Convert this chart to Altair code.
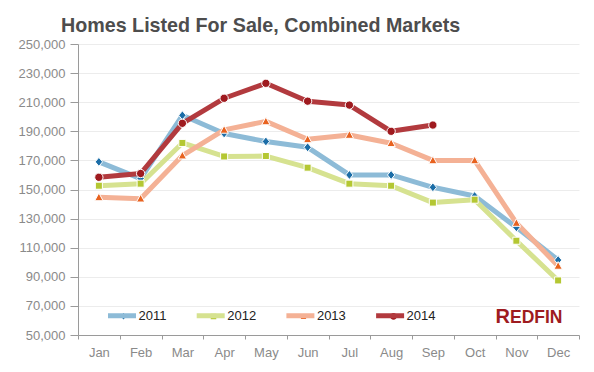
import altair as alt
import pandas as pd

months = ["Jan", "Feb", "Mar", "Apr", "May", "Jun", "Jul", "Aug", "Sep", "Oct", "Nov", "Dec"]
years = ["2011", "2012", "2013", "2014"]

homes_2011 = [169000, 157500, 201000, 188500, 183000, 179000, 160000, 160000, 151500, 145500, 124000, 101500]
homes_2012 = [152600, 154000, 182000, 172700, 173000, 165000, 154000, 152600, 141000, 143000, 114800, 87500]
homes_2013 = [144600, 143700, 173300, 191000, 196800, 184500, 187500, 181800, 170000, 170000, 127000, 97500]
homes_2014 = [158400, 161000, 195500, 212700, 223000, 210700, 208000, 190000, 194300]

y_ticks = [50000, 70000, 90000, 110000, 130000, 150000, 170000, 190000, 210000, 230000, 250000]

line_colors = ["#8dbbd7", "#d6e290", "#f4b195", "#b23a3e"]
marker_colors = ["#1b6da7", "#b4c732", "#e8621f", "#9f1a1f"]
marker_paths = [
    "M0,-0.28L0.23,0L0,0.28L-0.23,0Z",
    "M-0.22,-0.22H0.22V0.22H-0.22Z",
    "M0,-0.27L0.26,0.21H-0.26Z",
    "M0.26,0A0.26,0.26,0,1,1,-0.26,0A0.26,0.26,0,1,1,0.26,0Z",
]

rows = []
for yr, vals in zip(years, [homes_2011, homes_2012, homes_2013, homes_2014]):
    for m, v in zip(months, vals):
        rows.append({"month": m, "year": yr, "homes": v})
df = pd.DataFrame(rows)

FONT = "Liberation Sans"

x_enc = alt.X(
    "month:N",
    sort=months,
    scale=alt.Scale(type="band", domain=months, paddingInner=0, paddingOuter=0),
    axis=alt.Axis(
        title=None, labelAngle=0, tickBand="extent", tickSize=4, labelPadding=7,
        labelColor="#8a8a8a", labelFontSize=13, labelFont=FONT,
        domainColor="#9a9a9a", tickColor="#9a9a9a", grid=False,
    ),
)
y_enc = alt.Y(
    "homes:Q",
    scale=alt.Scale(domain=[50000, 250000], nice=False, zero=False),
    axis=alt.Axis(
        title=None, values=y_ticks, labelExpr="format(datum.value, ',.0f')",
        tickSize=8, labelPadding=5,
        labelColor="#8a8a8a", labelFontSize=13, labelFont=FONT,
        domainColor="#9a9a9a", tickColor="#9a9a9a", gridColor="#ececec",
    ),
)

base = alt.Chart(df)

line_legend = alt.Legend(
    orient="none", legendX=27.5, legendY=255, direction="horizontal", title=None,
    symbolType="stroke", symbolSize=784, symbolStrokeWidth=5,
    labelOffset=0, columnPadding=19.7, labelFontSize=13,
    labelFont=FONT, labelColor="#222222", padding=0,
)
lines = base.mark_line(strokeWidth=5, strokeJoin="round").encode(
    x=x_enc,
    y=y_enc,
    color=alt.Color("year:N", scale=alt.Scale(domain=years, range=line_colors), legend=line_legend),
)

marker_legend = alt.Legend(
    orient="none", legendX=28.5, legendY=255, direction="horizontal", title=None,
    symbolSize=1024, labelExpr="''", labelOffset=0, columnPadding=56,
    labelFontSize=13, labelFont=FONT, padding=0,
)
points = base.mark_point(filled=True, size=1024, stroke="white", strokeWidth=1, opacity=1).encode(
    x=x_enc,
    y=y_enc,
    fill=alt.Fill("year:N", scale=alt.Scale(domain=years, range=marker_colors), legend=marker_legend),
    shape=alt.Shape("year:N", scale=alt.Scale(domain=years, range=marker_paths), legend=marker_legend),
)

logo_r = alt.Chart(pd.DataFrame({"label": ["R"]})).mark_text(
    x=432, y=279, align="right", baseline="alphabetic",
    font=FONT, fontSize=20, fontWeight="bold", color="#9e1b20",
).encode(text="label:N")
logo_rest = alt.Chart(pd.DataFrame({"label": ["EDFIN"]})).mark_text(
    x=432, y=279, align="left", baseline="alphabetic",
    font=FONT, fontSize=17.5, fontWeight="bold", color="#9e1b20",
).encode(text="label:N")

chart = (
    alt.layer(lines, points, logo_r, logo_rest)
    .resolve_scale(color="independent")
    .properties(
        width=501,
        height=291,
        padding={"left": 70, "top": 36, "right": 7, "bottom": 25},
        autosize="none",
        title=alt.TitleParams(
            "Homes Listed For Sale, Combined Markets",
            anchor="start", frame="group", dx=-17, dy=21, offset=7, baseline="alphabetic",
            font=FONT, fontSize=19.7, fontWeight="bold", color="#4d4d4d",
        ),
    )
    .configure_view(stroke=None)
)

chart.save("out.html", embed_options={"renderer": "svg", "actions": False})
